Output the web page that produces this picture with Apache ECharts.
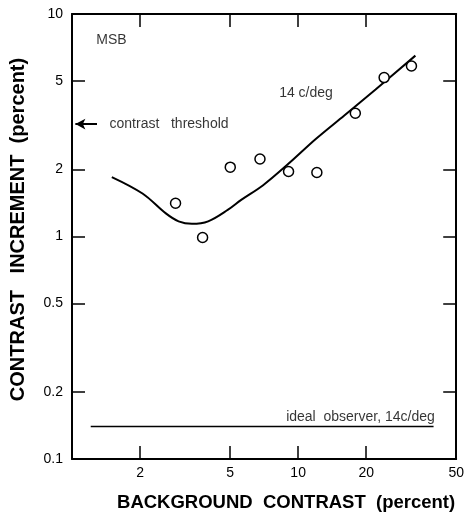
<!DOCTYPE html>
<html>
<head>
<meta charset="utf-8">
<script src="https://cdn.jsdelivr.net/npm/echarts@6/dist/echarts.min.js"></script>
<style>
  html, body { margin: 0; padding: 0; background: #fff; }
  #chart { width: 467px; height: 518px; }
</style>
</head>
<body>
<div id="chart"></div>
<script>
// measured points (MSB, 14 c/deg)
const bgContrast = [2.87, 3.78, 5.01, 6.78, 9.07, 12.1, 17.9, 24.0, 31.7]
const incrContrast = [1.41, 0.99, 2.05, 2.23, 1.96, 1.94, 3.58, 5.18, 5.84]

// fitted curve
const curveX = [1.5, 2.05, 2.6, 2.96, 3.39, 4.0, 4.9, 5.6, 7.0, 9.0, 12, 16, 22, 33]
const curveY = [1.85, 1.56, 1.27, 1.17, 1.14, 1.17, 1.32, 1.46, 1.70, 2.11, 2.75, 3.50, 4.58, 6.50]

// ideal observer
const idealX = [1.21, 39.7]
const idealY = [0.14, 0.14]

// contrast threshold
const thresholdY = 3.2

// ticks
const xTicks = [2, 5, 10, 20]
const xLabels = [2, 5, 10, 20, 50]
const yTicks = [0.2, 0.5, 1, 2, 5]
const yLabels = [0.1, 0.2, 0.5, 1, 2, 5, 10]

const FONT = 'Liberation Sans'

function pairs (xs, ys) {
  return xs.map((x, i) => [x, ys[i]])
}

function fmt (v) {
  return String(+Number(v).toPrecision(3))
}

let myChart = echarts.init(document.getElementById('chart'))

const axisLine = { show: true, onZero: false, lineStyle: { color: '#000', width: 2 } }
const tick = (vals) => ({ show: true, inside: true, length: 13, customValues: vals, lineStyle: { color: '#000', width: 1.5 } })

myChart.setOption({
  animation: false,
  backgroundColor: '#fff',
  grid: { left: 72, right: 8, top: 14, bottom: 59 },
  xAxis: [
    {
      type: 'log', min: 1, max: 50, position: 'bottom',
      name: 'BACKGROUND  CONTRAST  (percent)',
      nameLocation: 'middle',
      nameGap: 34,
      nameTextStyle: { color: '#000', fontFamily: FONT, fontSize: 18.5, fontWeight: 'bold', verticalAlign: 'top', padding: [0, 0, 0, 44] },
      axisLine: axisLine,
      axisTick: tick(xTicks),
      axisLabel: { customValues: xLabels, formatter: fmt, color: '#000', fontFamily: FONT, fontSize: 14, margin: 7 },
      splitLine: { show: false }
    },
    {
      type: 'log', min: 1, max: 50, position: 'top',
      axisLine: axisLine,
      axisTick: tick(xTicks),
      axisLabel: { show: false },
      splitLine: { show: false }
    }
  ],
  yAxis: [
    {
      type: 'log', min: 0.1, max: 10, position: 'left',
      name: 'CONTRAST   INCREMENT  (percent)',
      nameLocation: 'middle',
      nameGap: 44,
      nameTextStyle: { color: '#000', fontFamily: FONT, fontSize: 20, fontWeight: 'bold', padding: [0, 0, 0, 14] },
      axisLine: axisLine,
      axisTick: tick(yTicks),
      axisLabel: { customValues: yLabels, formatter: fmt, color: '#000', fontFamily: FONT, fontSize: 14, margin: 9 },
      splitLine: { show: false }
    },
    {
      type: 'log', min: 0.1, max: 10, position: 'right',
      axisLine: axisLine,
      axisTick: tick(yTicks),
      axisLabel: { show: false },
      splitLine: { show: false }
    }
  ],
  series: [
    {
      name: 'fit',
      type: 'line',
      data: pairs(curveX, curveY),
      smooth: 0.35,
      symbol: 'none',
      lineStyle: { color: '#000', width: 2 },
      z: 2
    },
    {
      name: 'MSB',
      type: 'scatter',
      data: pairs(bgContrast, incrContrast),
      symbol: 'circle',
      symbolSize: 10,
      itemStyle: { color: '#fff', borderColor: '#000', borderWidth: 1.5, opacity: 1 },
      z: 3
    },
    {
      name: 'ideal observer',
      type: 'line',
      data: pairs(idealX, idealY),
      symbol: 'none',
      lineStyle: { color: '#000', width: 1.5 },
      markLine: {
        silent: true,
        symbol: ['none', 'arrow'],
        symbolSize: [8, 10],
        label: { show: false },
        lineStyle: { color: '#000', width: 2, type: 'solid' },
        data: [[{ coord: [1.29, thresholdY] }, { coord: [1.035, thresholdY] }]]
      }
    },
    {
      name: 'notes',
      type: 'scatter',
      symbolSize: 0,
      silent: true,
      label: {
        show: true,
        position: 'inside',
        align: 'left',
        verticalAlign: 'middle',
        formatter: '{b}',
        color: '#000',
        fontFamily: FONT,
        fontSize: 14
      },
      data: [
        { name: 'MSB', value: [1.28, 7.64] },
        { name: '14 c/deg', value: [8.24, 4.42] },
        { name: 'contrast   threshold', value: [1.465, thresholdY] },
        { name: 'ideal  observer, 14c/deg', value: [40.2, 0.1545], label: { align: 'right' } }
      ]
    }
  ]
})
</script>
</body>
</html>
